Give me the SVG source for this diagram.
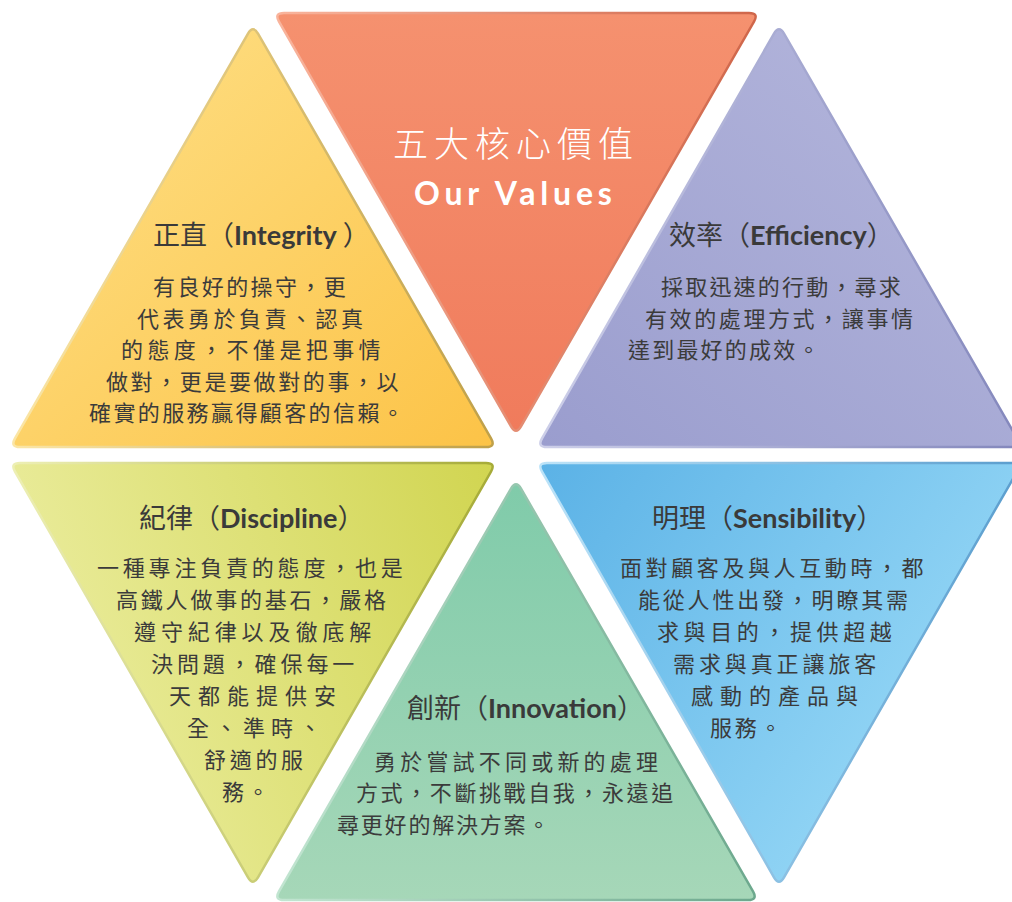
<svg xmlns="http://www.w3.org/2000/svg" width="1012" height="902" viewBox="0 0 1012 902">
<style>
.body{font-family:"Noto Sans CJK TC","Noto Sans CJK JP",sans-serif;font-size:22px;fill:#3b3b3b}
.ttl{font-family:"Noto Sans CJK TC","Noto Sans CJK JP",sans-serif;font-size:27px;fill:#3a3a3a}
.lat{font-family:"Lato","Noto Sans",sans-serif;font-weight:bold;font-size:27px}
.tri{stroke-width:2.5;stroke-linejoin:round}
</style>
<defs>
<linearGradient id="gO" x1="0" y1="0" x2="0" y2="1"><stop offset="0" stop-color="#F5916F"/><stop offset="1" stop-color="#F07B5C"/></linearGradient>
<linearGradient id="sO" x1="0" y1="0" x2="1" y2="0"><stop offset="0" stop-color="#F9B49C"/><stop offset="1" stop-color="#CF664A"/></linearGradient>
<linearGradient id="gY" x1="0" y1="0" x2="1" y2="1"><stop offset="0" stop-color="#FEE189"/><stop offset="1" stop-color="#FCC347"/></linearGradient>
<linearGradient id="sY" x1="0" y1="0" x2="1" y2="0"><stop offset="0" stop-color="#FBE6A6"/><stop offset="1" stop-color="#BFA049"/></linearGradient>
<linearGradient id="gP" x1="1" y1="0" x2="0" y2="1"><stop offset="0" stop-color="#B6B8DD"/><stop offset="1" stop-color="#9A9DCE"/></linearGradient>
<linearGradient id="sP" x1="0" y1="0" x2="1" y2="0"><stop offset="0" stop-color="#CDCFE9"/><stop offset="1" stop-color="#8387BC"/></linearGradient>
<linearGradient id="gL" x1="0" y1="0.3" x2="1" y2="0"><stop offset="0" stop-color="#EAEC9C"/><stop offset="1" stop-color="#D1D551"/></linearGradient>
<linearGradient id="sL" x1="0" y1="0" x2="1" y2="0"><stop offset="0" stop-color="#EDEFB4"/><stop offset="1" stop-color="#A6AB38"/></linearGradient>
<linearGradient id="gG" x1="0" y1="0" x2="0" y2="1"><stop offset="0" stop-color="#80CBAA"/><stop offset="1" stop-color="#A6D7B8"/></linearGradient>
<linearGradient id="sG" x1="0" y1="0" x2="1" y2="0"><stop offset="0" stop-color="#C2E5D1"/><stop offset="1" stop-color="#6CA88D"/></linearGradient>
<linearGradient id="gB" x1="0" y1="0" x2="1" y2="0.6"><stop offset="0" stop-color="#5BB2E6"/><stop offset="1" stop-color="#9ADAF7"/></linearGradient>
<linearGradient id="sB" x1="0" y1="0" x2="1" y2="0"><stop offset="0" stop-color="#BCE3F8"/><stop offset="1" stop-color="#5B9ECE"/></linearGradient>
</defs>
<rect width="1012" height="902" fill="#ffffff"/>

<g id="core-values">
<path class="tri" fill="url(#gO)" stroke="url(#sO)" d="M284,13 L749,13 Q759,13 754,21.7 L521,426.3 Q516,435 511,426.3 L279,21.7 Q274,13 284,13 Z"/>
<text x="393" y="157" style="font-family:'Noto Sans CJK TC','Noto Sans CJK JP',sans-serif;font-size:35px;font-weight:300;fill:#ffffff;letter-spacing:6px">五大核心價值</text>
<text x="414" y="205" style="font-family:Lato,'Noto Sans',sans-serif;font-size:32px;font-weight:bold;fill:#ffffff;letter-spacing:4.8px">Our Values</text>
</g>

<g id="integrity">
<path class="tri" fill="url(#gY)" stroke="url(#sY)" d="M258,33.7 L491,438.3 Q496,447 486,447 L20,447 Q10,447 15,438.3 L248,33.7 Q253,25 258,33.7 Z"/>
<text class="ttl" x="153" y="245">正直（<tspan class="lat">Integrity</tspan> ）</text>
<text class="body" x="153" y="295" letter-spacing="2.4">有良好的操守，更</text>
<text class="body" x="137" y="327" letter-spacing="3.5">代表勇於負責、認真</text>
<text class="body" x="121" y="358" letter-spacing="4.4">的態度，不僅是把事情</text>
<text class="body" x="106" y="390" letter-spacing="2.6">做對，更是要做對的事，以</text>
<text class="body" x="89" y="421" letter-spacing="2.4">確實的服務贏得顧客的信賴。</text>
</g>

<g id="efficiency">
<path class="tri" fill="url(#gP)" stroke="url(#sP)" d="M784,33.7 L1017,438.3 Q1022,447 1012,447 L547,447 Q537,447 542,438.3 L774,33.7 Q779,25 784,33.7 Z"/>
<text class="ttl" x="669" y="245">效率（<tspan class="lat">Efficiency</tspan>）</text>
<text class="body" x="661" y="295" letter-spacing="2.2">採取迅速的行動，尋求</text>
<text class="body" x="645" y="327" letter-spacing="2.6">有效的處理方式，讓事情</text>
<text class="body" x="628" y="358" letter-spacing="2.2">達到最好的成效。</text>
</g>

<g id="discipline">
<path class="tri" fill="url(#gL)" stroke="url(#sL)" d="M20,463 L486,463 Q496,463 491,471.7 L258,877.3 Q253,886 248,877.3 L15,471.7 Q10,463 20,463 Z"/>
<text class="ttl" x="139" y="528">紀律（<tspan class="lat">Discipline</tspan>）</text>
<text class="body" x="97" y="576" letter-spacing="3.8">一種專注負責的態度，也是</text>
<text class="body" x="116" y="608" letter-spacing="2.8">高鐵人做事的基石，嚴格</text>
<text class="body" x="134" y="640" letter-spacing="4.9">遵守紀律以及徹底解</text>
<text class="body" x="151" y="672" letter-spacing="3.9">決問題，確保每一</text>
<text class="body" x="169" y="704" letter-spacing="7">天都能提供安</text>
<text class="body" x="187" y="736" letter-spacing="6">全、準時、</text>
<text class="body" x="204" y="768" letter-spacing="3.7">舒適的服</text>
<text class="body" x="222" y="800" letter-spacing="3">務。</text>
</g>

<g id="innovation">
<path class="tri" fill="url(#gG)" stroke="url(#sG)" d="M521,488.7 L753,891.3 Q758,900 748,900 L284,900 Q274,900 279,891.3 L511,488.7 Q516,480 521,488.7 Z"/>
<text class="ttl" x="407" y="718">創新（<tspan class="lat">Innovation</tspan>）</text>
<text class="body" x="374" y="770" letter-spacing="4.2">勇於嘗試不同或新的處理</text>
<text class="body" x="356" y="801" letter-spacing="2.6">方式，不斷挑戰自我，永遠追</text>
<text class="body" x="337" y="833" letter-spacing="1.8">尋更好的解決方案。</text>
</g>

<g id="sensibility">
<path class="tri" fill="url(#gB)" stroke="url(#sB)" d="M547,463 L1012,463 Q1022,463 1017,471.7 L784,877.3 Q779,886 774,877.3 L542,471.7 Q537,463 547,463 Z"/>
<text class="ttl" x="652" y="528">明理（<tspan class="lat">Sensibility</tspan>）</text>
<text class="body" x="620" y="576" letter-spacing="3.6">面對顧客及與人互動時，都</text>
<text class="body" x="638" y="608" letter-spacing="2.8">能從人性出發，明瞭其需</text>
<text class="body" x="657" y="640" letter-spacing="4.6">求與目的，提供超越</text>
<text class="body" x="673" y="672" letter-spacing="3.9">需求與真正讓旅客</text>
<text class="body" x="691" y="704" letter-spacing="7">感動的產品與</text>
<text class="body" x="710" y="736" letter-spacing="2.8">服務。</text>
</g>

<g id="connectors"/>
</svg>
